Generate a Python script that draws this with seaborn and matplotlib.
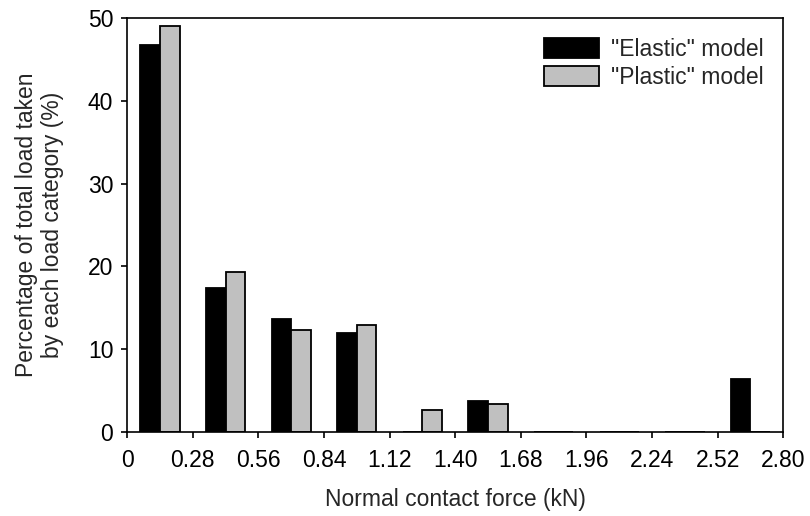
import matplotlib
matplotlib.use('Agg')
import matplotlib.pyplot as plt
import seaborn as sns
import pandas as pd

# bin centres (kN) and percentage of load in each bin
force_bins = [0.14, 0.42, 0.70, 0.98, 1.26, 1.54, 1.82, 2.10, 2.38, 2.66]
elastic = [46.8, 17.4, 13.6, 11.9, 0.0, 3.75, 0.0, 0.0, 0.0, 6.45]
plastic = [49.05, 19.35, 12.3, 12.9, 2.7, 3.35, 0.0, 0.0, 0.0, 0.0]
model_names = ['"Elastic" model', '"Plastic" model']
x_ticks = [0, 0.28, 0.56, 0.84, 1.12, 1.40, 1.68, 1.96, 2.24, 2.52, 2.80]
x_tick_labels = ['0', '0.28', '0.56', '0.84', '1.12', '1.40', '1.68', '1.96', '2.24', '2.52', '2.80']
y_ticks = [0, 10, 20, 30, 40, 50]

df = pd.DataFrame({
    'force': force_bins * 2,
    'pct': elastic + plastic,
    'model': [model_names[0]] * len(force_bins) + [model_names[1]] * len(force_bins),
})

sns.set_style('ticks')
plt.rcParams['font.family'] = ['Liberation Sans', 'DejaVu Sans']
fs = 16.5

fig = plt.figure(figsize=(8.1, 5.16), dpi=100)
ax = fig.add_axes([0.157, 0.163, 0.81, 0.802])

sns.barplot(data=df, x='force', y='pct', hue='model', native_scale=True,
            palette=['black', '#c0c0c0'], width=0.6, edgecolor='black',
            linewidth=1.3, saturation=1, ax=ax)

ax.set_xlim(0, 2.80)
ax.set_ylim(0, 50)
ax.set_xticks(x_ticks)
ax.set_xticklabels(x_tick_labels)
ax.set_yticks(y_ticks)
for s in ax.spines.values():
    s.set_visible(True)
    s.set_linewidth(1.2)
    s.set_color('black')
ax.tick_params(direction='out', length=4, width=1.2, colors='black', labelsize=fs)
ax.tick_params(axis='x', pad=8)
ax.tick_params(axis='y', pad=6)
ax.set_xlabel('Normal contact force (kN)', fontsize=fs, labelpad=12)
ax.set_ylabel('Percentage of total load taken\nby each load category (%)', fontsize=fs,
              labelpad=17)

ax.legend(loc='upper right', frameon=False, fontsize=fs, handlelength=2.4,
          handleheight=0.95, labelspacing=0.22, borderaxespad=0.45, handletextpad=0.55)

fig.savefig('out.png', dpi=100)
